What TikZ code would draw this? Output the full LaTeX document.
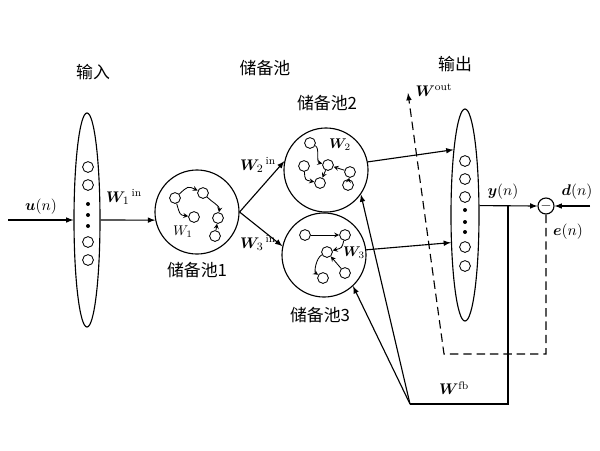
\documentclass[tikz,border=0pt]{standalone}
\usepackage{amsmath,amssymb,bm}
\usepackage{fontspec}
\newfontfamily\cjk{Noto Sans CJK SC}
\usetikzlibrary{shapes.geometric, positioning}

\begin{document}
\begin{tikzpicture}[x=0.025cm, y=-0.025cm, line width=0.8pt,
    arr/.style={-latex},
    fbdash/.style={dash pattern=on 6pt off 3.5pt},
    pool/.style={circle, draw, minimum size=2.1cm, inner sep=0pt},
    layer/.style={ellipse, draw, inner sep=0pt},
    neuron/.style={circle, draw, line width=0.6pt, minimum size=0.27cm, inner sep=0pt},
    dotn/.style={circle, fill, minimum size=0.1cm, inner sep=0pt},
    link/.style={-stealth, line width=0.6pt},
    cjklabel/.style={font=\cjk\fontsize{12}{14}\selectfont},
    mlabel/.style={font=\fontsize{11}{13}\selectfont, inner sep=1pt},
    wlabel/.style={font=\fontsize{10}{12}\selectfont, inner sep=1pt}]
    \useasboundingbox (0,0) rectangle (600,450);

    % layers and pools
    \node[layer, minimum width=0.65cm, minimum height=5.35cm] (inp) at (87,220) {};
    \node[layer, minimum width=0.7cm, minimum height=5.3cm] (outp) at (465,215) {};
    \node[pool] (pool1) at (197,212) {};
    \node[pool] (pool2) at (326,170) {};
    \node[pool] (pool3) at (324,255) {};
    \node[circle, draw, minimum size=0.4cm, inner sep=0pt] (minus) at (546,206) {$-$};

    \foreach \y [count=\i] in {167,185,242,260}
        \node[neuron] (in\i) at (88,\y) {};
    \foreach \y [count=\i] in {204,215,226}
        \node[dotn] (indot\i) at (88,\y) {};
    \foreach \y [count=\i] in {161,179,197,247,266}
        \node[neuron] (out\i) at (465,\y) {};
    \foreach \y [count=\i] in {210,222,232}
        \node[dotn] (outdot\i) at (465,\y) {};

    % pool 1
    \node[neuron] (p1a) at (175,198) {};
    \node[neuron] (p1b) at (203,193) {};
    \node[neuron] (p1c) at (194,217) {};
    \node[neuron] (p1d) at (218,218) {};
    \node[neuron] (p1e) at (215,236) {};
    \draw[link] (p1a) .. controls (188,186) .. (p1b);
    \draw[link] (p1a) .. controls (180,215) .. (p1c);
    \draw[link] (p1b) .. controls (212,202) and (220,206) .. (p1d);
    \draw[link] (p1e) -- (p1d);
    \node[wlabel] (w1) at (183,232) {$W_{1}$};

    % pool 2
    \node[neuron] (p2a) at (310,143) {};
    \node[neuron] (p2b) at (304,166) {};
    \node[neuron] (p2c) at (328,165) {};
    \node[neuron] (p2d) at (320,183) {};
    \node[neuron] (p2e) at (350,172) {};
    \node[neuron] (p2f) at (348,185) {};
    \draw[link] (p2a) .. controls (320,148) and (316,162) .. (p2c);
    \draw[link] (p2b) .. controls (305,180) .. (p2d);
    \draw[link] (p2c) -- (p2d);
    \draw[link] (p2e) -- (p2c);
    \draw[link] (p2f) -- (p2e);
    \node[wlabel] (w2) at (340,145) {$\bm{W}_{2}$};

    % pool 3
    \node[neuron] (p3a) at (305,235) {};
    \node[neuron] (p3b) at (345,235) {};
    \node[neuron] (p3c) at (327,252) {};
    \node[neuron] (p3d) at (345,273) {};
    \node[neuron] (p3e) at (323,278) {};
    \draw[link] (p3a) -- (p3b);
    \draw[link] (p3b) .. controls (342,248) .. (p3c);
    \draw[link] (p3d) -- (p3c);
    \draw[link] (p3c) .. controls (316,258) and (314,272) .. (p3e);
    \node[wlabel] (w3) at (354,253) {$\bm{W}_{3}$};

    % free ends
    \coordinate (usrc) at (8,220);
    \coordinate (dsrc) at (590,206);
    \coordinate (fbjoin) at (508,206);
    \coordinate (fbbase) at (410,404);
    \coordinate (errcorner) at (444,354);
    \coordinate (wouttip) at (408,93);

    % connectors
    \draw[arr] (usrc) -- (inp.west);
    \draw[arr] (inp.east) -- (pool1.191);
    \draw[arr] (pool1.east) -- (pool2.168);
    \draw[arr] (pool1.east) -- (pool3.168);
    \draw[arr] (pool2.11) -- (outp.100);
    \draw[arr] (pool3.7) -- (outp.243);
    \draw[arr] (outp.33) -- (minus.west);
    \draw[arr] (dsrc) -- (minus.east);
    \draw (fbjoin) |- (fbbase);
    \draw[arr] (fbbase) -- (pool2.325);
    \draw[arr] (fbbase) -- (pool3.313);
    \draw[fbdash, -latex] (minus.south) |- (errcorner) -- (wouttip);

    % labels
    \node[cjklabel] (lblin) at (93,72) {输入};
    \node[cjklabel] (lblres) at (265,68) {储备池};
    \node[cjklabel] (lblout) at (455,64) {输出};
    \node[cjklabel] (lblp1) at (197,270) {储备池1};
    \node[cjklabel] (lblp2) at (327,103) {储备池2};
    \node[cjklabel] (lblp3) at (320,315) {储备池3};
    \node[mlabel] (lblu) at (41,207) {$\bm{u}(n)$};
    \node[mlabel] (lblw1in) at (124,197) {$\bm{W}_{1}{}^{\,\mathrm{in}}$};
    \node[mlabel] (lblw2in) at (258,165) {$\bm{W}_{2}{}^{\,\mathrm{in}}$};
    \node[mlabel] (lblw3in) at (258,243) {$\bm{W}_{3}{}^{\,\mathrm{in}}$};
    \node[mlabel] (lblwout) at (434,90) {$\bm{W}^{\mathrm{out}}$};
    \node[mlabel] (lblwfb) at (454,388) {$\bm{W}^{\mathrm{fb}}$};
    \node[mlabel] (lbly) at (503,192) {$\bm{y}(n)$};
    \node[mlabel] (lbld) at (577,192) {$\bm{d}(n)$};
    \node[mlabel] (lble) at (568,232) {$\bm{e}(n)$};
\end{tikzpicture}
\end{document}
